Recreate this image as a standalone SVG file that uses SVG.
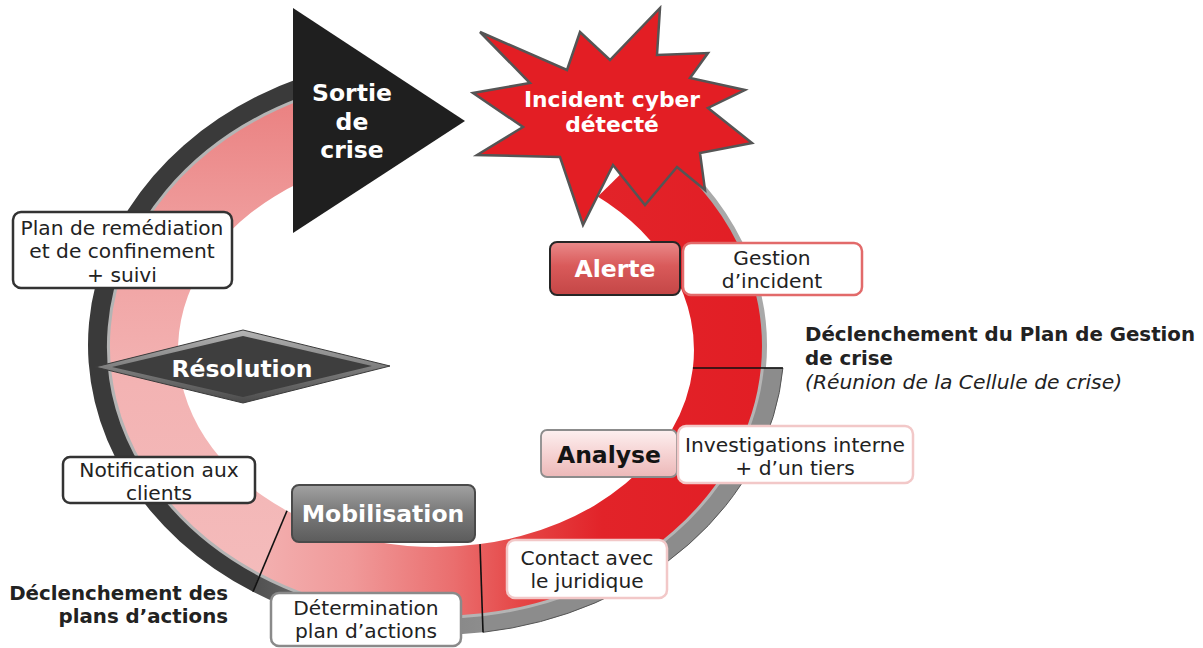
<svg xmlns="http://www.w3.org/2000/svg" width="1203" height="648" viewBox="0 0 1203 648">
  <defs>
    <style>
      text { font-family: "DejaVu Sans", Verdana, sans-serif; }
      .lbl { font-size: 20.2px; fill: #222; text-anchor: middle; }
      .btn { font-size: 23.5px; font-weight: bold; text-anchor: middle; }
      .burst { font-size: 21.8px; font-weight: bold; text-anchor: middle; fill: #fff; }
      .note { font-size: 19.8px; font-weight: bold; fill: #222; }
      .box { fill: #fff; stroke-width: 2.5; }
      .divider { stroke: #111; stroke-width: 1.6; fill: none; }
    </style>
    <!-- ring body colours -->
    <linearGradient id="gRedPink" gradientUnits="userSpaceOnUse" x1="760" y1="0" x2="250" y2="0">
      <stop offset="0" stop-color="#E21E25"/>
      <stop offset="0.31" stop-color="#E22329"/>
      <stop offset="0.47" stop-color="#E54646"/>
      <stop offset="0.60" stop-color="#EA6E6E"/>
      <stop offset="0.80" stop-color="#F09999"/>
      <stop offset="1" stop-color="#F3B2B2"/>
    </linearGradient>
    <linearGradient id="gPinkUp" gradientUnits="userSpaceOnUse" x1="0" y1="575" x2="0" y2="95">
      <stop offset="0" stop-color="#F4BBBB"/>
      <stop offset="0.4" stop-color="#F3B3B3"/>
      <stop offset="0.7" stop-color="#F0A0A0"/>
      <stop offset="1" stop-color="#EA8080"/>
    </linearGradient>
    <linearGradient id="gRimBottom" gradientUnits="userSpaceOnUse" x1="483" y1="0" x2="253" y2="0">
      <stop offset="0" stop-color="#8D8D8D"/>
      <stop offset="0.6" stop-color="#777"/>
      <stop offset="1" stop-color="#505050"/>
    </linearGradient>
    <!-- button fills -->
    <linearGradient id="gAlerte" x1="0" y1="0" x2="0" y2="1">
      <stop offset="0" stop-color="#EA8A8A"/>
      <stop offset="0.45" stop-color="#D95A5A"/>
      <stop offset="1" stop-color="#C44646"/>
    </linearGradient>
    <linearGradient id="gAnalyse" x1="0" y1="0" x2="0" y2="1">
      <stop offset="0" stop-color="#FDF0F0"/>
      <stop offset="0.5" stop-color="#F6D3D3"/>
      <stop offset="1" stop-color="#ECB8B8"/>
    </linearGradient>
    <linearGradient id="gMobil" x1="0" y1="0" x2="0" y2="1">
      <stop offset="0" stop-color="#A2A2A2"/>
      <stop offset="0.45" stop-color="#7B7B7B"/>
      <stop offset="1" stop-color="#5C5C5C"/>
    </linearGradient>
    <linearGradient id="gDiamond" x1="0" y1="0" x2="0" y2="1">
      <stop offset="0" stop-color="#B5B5B5"/>
      <stop offset="1" stop-color="#4A4A4A"/>
    </linearGradient>
  </defs>

  <!-- cycle ring -->
  <g id="ring">
    <!-- thin grey rim of the red start segment -->
    <path d="M650,142.3 A326,270 0 0,1 760.9,368" fill="none" stroke="#A9A9A9" stroke-width="10"/>
    <!-- outer rims -->
    <path d="M782.9,368 A348,290 0 0,1 483,632.3 L482,613.3 A326,270 0 0,0 760.9,368 Z" fill="#8C8C8C" stroke="#555" stroke-width="1"/>
    <path d="M483,632.3 A348,290 0 0,1 253,591.7 L260,573.3 A326,270 0 0,0 482,613.3 Z" fill="url(#gRimBottom)"/>
    <path d="M253,591.7 A348,290 0 0,1 300,78.1 L300,100.6 A326,270 0 0,0 260,573.3 Z" fill="#3A3A3A"/>
    <!-- light edge between rim and body -->
    <path d="M760.9,368 A326,270 0 0,1 482,613.3 A326,270 0 0,1 260,573.3 A326,270 0 0,1 300,100.6" fill="none" stroke="#B4B4B4" stroke-width="6"/>
    <!-- body -->
    <path d="M650,142.3 A326,270 0 0,1 760.9,368 A326,270 0 0,1 482,613.3 A326,270 0 0,1 260,573.3 L287,510.8 A258,197 0 0,0 480,544.1 A258,197 0 0,0 692.9,368 A258,197 0 0,0 596,195.5 Z" fill="url(#gRedPink)"/>
    <path d="M260,573.3 A326,270 0 0,1 300,100.6 L300,182.6 A258,197 0 0,0 287,510.8 Z" fill="url(#gPinkUp)"/>
    <!-- start face highlight -->
    <line x1="596" y1="195.5" x2="650" y2="142.3" stroke="#fff" stroke-width="4"/>
  </g>

  <!-- phase separators on the ring -->
  <g id="connectors">
    <line class="divider" x1="692.9" y1="368" x2="782.9" y2="368"/>
    <line class="divider" x1="480" y1="544.1" x2="483" y2="632.3"/>
    <line class="divider" x1="287" y1="510.8" x2="253" y2="591.7"/>
  </g>

  <!-- exit arrow -->
  <g id="sortie">
    <polygon points="293,8 465,121 293,233" fill="#1F1F1F"/>
    <text class="btn" fill="#fff" x="352" y="101">Sortie</text>
    <text class="btn" fill="#fff" x="352" y="130">de</text>
    <text class="btn" fill="#fff" x="352" y="158">crise</text>
  </g>

  <!-- detection burst -->
  <g id="incident">
    <polygon points="480,32 567,70 580,32 610,60 660,8 657,55 708,53 690,78 745,90 708,108 752,143 700,153 705,190 677,167 645,205 613,165 583,225 560,157 477,155 523,127 473,93 530,83" fill="#E31E24" stroke="#555" stroke-width="2.5" stroke-linejoin="miter"/>
    <text class="burst" x="612" y="107">Incident cyber</text>
    <text class="burst" x="612" y="132">détecté</text>
  </g>

  <g id="alerte">
    <rect x="550" y="242" width="130" height="53" rx="7" fill="url(#gAlerte)" stroke="#262626" stroke-width="2"/>
    <text class="btn" fill="#fff" x="615" y="277">Alerte</text>
  </g>

  <g id="gestion-incident">
    <rect class="box" x="683" y="243" width="179" height="52" rx="8" stroke="#E26A6A"/>
    <text class="lbl" x="772" y="265">Gestion</text>
    <text class="lbl" x="772" y="288">d’incident</text>
  </g>

  <g id="declenchement-pgc">
    <text class="note" x="805" y="341">Déclenchement du Plan de Gestion</text>
    <text class="note" x="805" y="365">de crise</text>
    <text x="805" y="389" font-size="20.3" font-style="italic" fill="#222">(Réunion de la Cellule de crise)</text>
  </g>

  <g id="analyse">
    <rect x="541" y="430" width="136" height="47" rx="6" fill="url(#gAnalyse)" stroke="#8C8C8C" stroke-width="1.8"/>
    <text class="btn" fill="#141414" x="609" y="463">Analyse</text>
  </g>

  <g id="investigations">
    <rect class="box" x="678" y="426" width="235" height="57" rx="8" stroke="#F2C8C8"/>
    <text class="lbl" x="795" y="452">Investigations interne</text>
    <text class="lbl" x="795" y="475">+ d’un tiers</text>
  </g>

  <g id="contact-juridique">
    <rect class="box" x="507" y="540" width="160" height="58" rx="8" stroke="#F2C8C8"/>
    <text class="lbl" x="587" y="565">Contact avec</text>
    <text class="lbl" x="587" y="588">le juridique</text>
  </g>

  <g id="mobilisation">
    <rect x="292" y="485" width="183" height="57" rx="7" fill="url(#gMobil)" stroke="#4A4A4A" stroke-width="2"/>
    <text class="btn" fill="#fff" x="383" y="522">Mobilisation</text>
  </g>

  <g id="determination">
    <rect class="box" x="271" y="593" width="190" height="53" rx="8" stroke="#8A8A8A"/>
    <text class="lbl" x="366" y="615">Détermination</text>
    <text class="lbl" x="366" y="638">plan d’actions</text>
  </g>

  <g id="declenchement-plans">
    <text class="note" x="228" y="600" text-anchor="end">Déclenchement des</text>
    <text class="note" x="228" y="623" text-anchor="end">plans d’actions</text>
  </g>

  <g id="notification">
    <rect class="box" x="63" y="457" width="192" height="46" rx="7" stroke="#333"/>
    <text class="lbl" x="159" y="477">Notification aux</text>
    <text class="lbl" x="159" y="500">clients</text>
  </g>

  <g id="resolution">
    <polygon points="95,367 243,330 390,366 243,403" fill="url(#gDiamond)" stroke="#3A3A3A" stroke-width="1"/>
    <polygon points="112,367 243,336 372,366 243,397" fill="#3E3E3E"/>
    <text class="btn" fill="#fff" x="242" y="377">Résolution</text>
  </g>

  <g id="remediation">
    <rect class="box" x="13" y="212" width="219" height="76" rx="8" stroke="#333"/>
    <text class="lbl" x="122" y="235">Plan de remédiation</text>
    <text class="lbl" x="122" y="258">et de confinement</text>
    <text class="lbl" x="122" y="282">+ suivi</text>
  </g>
</svg>
